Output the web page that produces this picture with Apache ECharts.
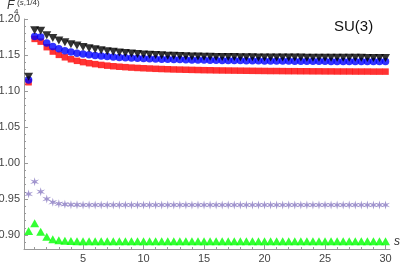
<!DOCTYPE html>
<html>
<head>
<meta charset="utf-8">
<script src="https://cdn.jsdelivr.net/npm/echarts@6/dist/echarts.min.js"></script>
<style>
html,body{margin:0;padding:0;background:#fff;}
#c{width:403px;height:262px;}
</style>
</head>
<body>
<div id="c"></div>
<script>
// s values
var sValues = [0.5,1,1.5,2,2.5,3,3.5,4,4.5,5,5.5,6,6.5,7,7.5,8,8.5,9,9.5,10,
  10.5,11,11.5,12,12.5,13,13.5,14,14.5,15,15.5,16,16.5,17,17.5,18,18.5,19,19.5,20,
  20.5,21,21.5,22,22.5,23,23.5,24,24.5,25,25.5,26,26.5,27,27.5,28,28.5,29,29.5,30];

var blackTri = [1.120,1.185,1.184,1.178,1.174,1.1705,1.168,1.1655,1.1635,1.1615,
  1.1598,1.1583,1.157,1.1558,1.1548,1.1539,1.1531,1.1524,1.1518,1.1512,
  1.1507,1.1503,1.1499,1.1495,1.1492,1.1489,1.1487,1.1485,1.1483,1.1481,
  1.1479,1.1478,1.1477,1.1476,1.1475,1.1474,1.1473,1.1472,1.1471,1.1471,
  1.147,1.147,1.1469,1.1469,1.1468,1.1468,1.1467,1.1467,1.1467,1.1466,
  1.1466,1.1466,1.1465,1.1465,1.1465,1.1465,1.1464,1.1464,1.1464,1.1464];

var blueCircle = [1.1155,1.176,1.1755,1.167,1.1622,1.159,1.1565,1.1546,1.153,1.1517,
  1.1506,1.1497,1.1489,1.1482,1.1476,1.1471,1.1466,1.1462,1.1458,1.1455,
  1.1452,1.1449,1.1446,1.1444,1.1442,1.144,1.1438,1.1436,1.1434,1.1433,
  1.1431,1.143,1.1429,1.1428,1.1427,1.1426,1.1425,1.1424,1.1423,1.1422,
  1.1421,1.142,1.142,1.1419,1.1418,1.1418,1.1417,1.1417,1.1416,1.1416,
  1.1415,1.1415,1.1414,1.1414,1.1414,1.1413,1.1413,1.1413,1.1412,1.1412];

var redSquare = [1.1125,1.1728,1.169,1.1613,1.1552,1.1506,1.1472,1.1445,1.1423,1.1405,
  1.139,1.1377,1.1366,1.1356,1.1348,1.1341,1.1335,1.1329,1.1324,1.132,
  1.1316,1.1312,1.1309,1.1306,1.1303,1.1301,1.1299,1.1297,1.1295,1.1293,
  1.1292,1.129,1.1289,1.1288,1.1287,1.1286,1.1285,1.1284,1.1283,1.1282,
  1.1281,1.1281,1.128,1.1279,1.1279,1.1278,1.1278,1.1277,1.1277,1.1276,
  1.1276,1.1275,1.1275,1.1275,1.1274,1.1274,1.1274,1.1273,1.1273,1.1273];

var purpleStar = [0.957,0.974,0.960,0.950,0.9455,0.9435,0.9426,0.9421,0.9419,0.9418,
  0.9417,0.9417,0.9417,0.9417,0.9417,0.9417,0.9417,0.9417,0.9417,0.9417,
  0.9417,0.9417,0.9417,0.9417,0.9417,0.9417,0.9417,0.9417,0.9417,0.9417,
  0.9416,0.9416,0.9416,0.9416,0.9416,0.9416,0.9416,0.9416,0.9416,0.9416,
  0.9416,0.9416,0.9416,0.9416,0.9416,0.9416,0.9416,0.9416,0.9416,0.9416,
  0.9416,0.9416,0.9416,0.9416,0.9416,0.9416,0.9416,0.9416,0.9416,0.9416];

var greenTri = [0.9055,0.9162,0.9045,0.8975,0.894,0.8928,0.892,0.8916,0.8914,0.8913,
  0.8913,0.8913,0.8913,0.8913,0.8913,0.8913,0.8913,0.8913,0.8913,0.8913,
  0.8913,0.8913,0.8913,0.8913,0.8913,0.8913,0.8913,0.8913,0.8913,0.8913,
  0.8913,0.8913,0.8913,0.8913,0.8913,0.8913,0.8913,0.8913,0.8913,0.8913,
  0.8913,0.8913,0.8913,0.8913,0.8913,0.8913,0.8913,0.8913,0.8913,0.8913,
  0.8913,0.8913,0.8913,0.8913,0.8913,0.8913,0.8913,0.8913,0.8913,0.8913];

// tick values
var xMajorTicks = [5,10,15,20,25,30];
var xMinorTicks = [1,2,3,4,6,7,8,9,11,12,13,14,16,17,18,19,21,22,23,24,26,27,28,29];
var yMajorTicks = [0.90,0.95,1.00,1.05,1.10,1.15,1.20];
var yMinorTicks = [0.89,0.91,0.92,0.93,0.94,0.96,0.97,0.98,0.99,1.01,1.02,1.03,1.04,
  1.06,1.07,1.08,1.09,1.11,1.12,1.13,1.14,1.16,1.17,1.18,1.19];

function pairs(vals){ return sValues.map(function(s,i){ return [s, vals[i]]; }); }

// six-armed asterisk-like star
var starPath = 'path://M100 0 L116 72 L187 50 L132 100 L187 150 L116 128 L100 200 L84 128 L13 150 L68 100 L13 50 L84 72 Z';

var axisColor = '#9a9a9a';
var labelColor = '#444';
var font = '"Liberation Sans", Arial, sans-serif';
var xMin = 0.12, xMax = 30.37, yMin = 0.8805, yMax = 1.2005;

var gridRect = {left:24, top:19, right:13, bottom:13, containLabel:false, outerBoundsMode:'none'};

var chart = echarts.init(document.getElementById('c'), null, {renderer:'canvas'});
chart.setOption({
  animation:false,
  backgroundColor:'#fff',
  grid:[Object.assign({}, gridRect), Object.assign({}, gridRect)],
  xAxis:[
    {type:'value', gridIndex:0, min:xMin, max:xMax,
     axisLine:{show:true, onZero:false, lineStyle:{color:axisColor, width:1}},
     axisTick:{show:true, inside:true, length:4, customValues:xMajorTicks, lineStyle:{color:axisColor}},
     axisLabel:{show:true, customValues:xMajorTicks, margin:4, color:labelColor, fontSize:11, fontFamily:font},
     splitLine:{show:false}},
    {type:'value', gridIndex:1, min:xMin, max:xMax,
     axisLine:{show:false, onZero:false},
     axisTick:{show:true, inside:true, length:2, customValues:xMinorTicks, lineStyle:{color:axisColor}},
     axisLabel:{show:false},
     splitLine:{show:false}}
  ],
  yAxis:[
    {type:'value', gridIndex:0, min:yMin, max:yMax,
     axisLine:{show:true, onZero:false, lineStyle:{color:axisColor, width:1}},
     axisTick:{show:true, inside:true, length:4, customValues:yMajorTicks, lineStyle:{color:axisColor}},
     axisLabel:{show:true, customValues:yMajorTicks, margin:4, color:labelColor, fontSize:11, fontFamily:font,
       formatter:function(v){ return v.toFixed(2); }},
     splitLine:{show:false}},
    {type:'value', gridIndex:1, min:yMin, max:yMax,
     axisLine:{show:false, onZero:false},
     axisTick:{show:true, inside:true, length:2, customValues:yMinorTicks, lineStyle:{color:axisColor}},
     axisLabel:{show:false},
     splitLine:{show:false}}
  ],
  series:[
    {type:'scatter', name:'green', data:pairs(greenTri), symbol:'triangle', symbolSize:[9,8],
     itemStyle:{color:'#00ff00'}, xAxisIndex:0, yAxisIndex:0},
    {type:'scatter', name:'purple', data:pairs(purpleStar), symbol:starPath, symbolSize:[9,9],
     itemStyle:{color:'#8a7bc2'}, xAxisIndex:0, yAxisIndex:0},
    {type:'scatter', name:'red', data:pairs(redSquare), symbol:'rect', symbolSize:6.5,
     itemStyle:{color:'#ff0000'}, xAxisIndex:0, yAxisIndex:0},
    {type:'scatter', name:'blue', data:pairs(blueCircle), symbol:'circle', symbolSize:7.5,
     itemStyle:{color:'#0000ff'}, xAxisIndex:0, yAxisIndex:0},
    {type:'scatter', name:'black', data:pairs(blackTri), symbol:'triangle', symbolRotate:180, symbolSize:[9,8],
     itemStyle:{color:'#000000'}, xAxisIndex:0, yAxisIndex:0}
  ],
  graphic:[
    {type:'text', left:7, top:0, style:{text:'F', font:'italic 12px "Liberation Sans", Arial, sans-serif', fill:'#333'}},
    {type:'text', left:14, top:8, style:{text:'4', font:'8px "Liberation Sans", Arial, sans-serif', fill:'#333'}},
    {type:'text', left:17, top:-1, style:{
      text:'{a|(}{i|s}{a|,1/4)}',
      rich:{a:{fontSize:8, fontFamily:font, fill:'#333'}, i:{fontSize:8, fontStyle:'italic', fontFamily:font, fill:'#333'}}
    }},
    {type:'text', left:394, top:236, style:{text:'s', font:'italic 12px "Liberation Sans", Arial, sans-serif', fill:'#333'}},
    {type:'text', left:334, top:19, style:{text:'SU(3)', font:'15px "Liberation Sans", Arial, sans-serif', fill:'#111'}}
  ]
});
</script>
</body>
</html>
